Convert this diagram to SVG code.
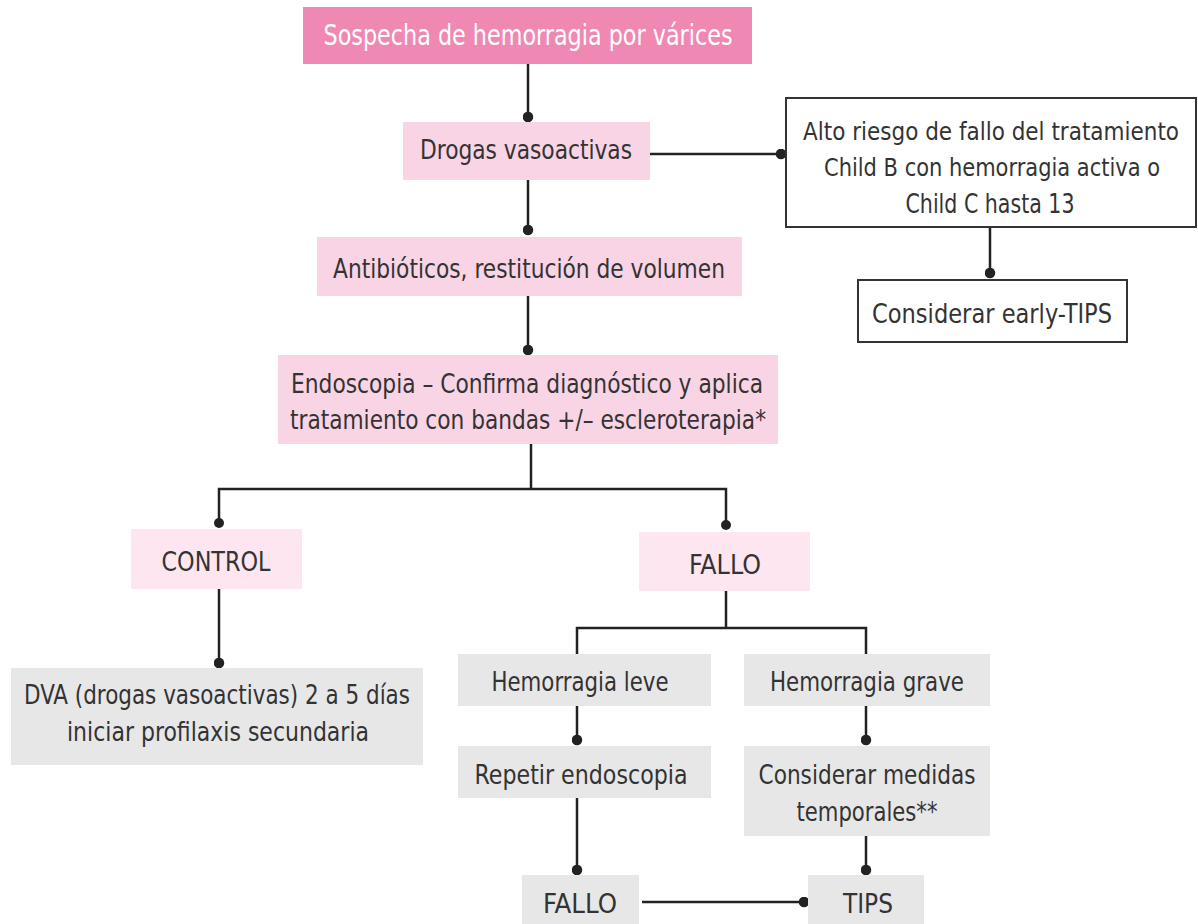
<svg xmlns="http://www.w3.org/2000/svg" width="1198" height="924" viewBox="0 0 1198 924">
<defs>
<style>
text{font-family:"DejaVu Sans Condensed","DejaVu Sans","Liberation Sans",sans-serif;font-size:27px;fill:#333;text-anchor:middle}
.w{fill:#fff;font-size:28px}
.sm{font-size:24px}
.top{fill:#f088b4}
.pk{fill:#f9d4e5}
.lp{fill:#fde6ef}
.gr{fill:#e7e7e7}
.wb{fill:#fff;stroke:#333;stroke-width:2}
.c{fill:none;stroke:#222;stroke-width:2.5}
</style>
<marker id="dot" viewBox="0 0 10 10" refX="5" refY="5" markerWidth="4.4" markerHeight="4.4" markerUnits="strokeWidth"><circle cx="5" cy="5" r="4.8" fill="#222"/></marker>
</defs>
<rect width="1198" height="924" fill="#fff"/>
<g id="connectors">
<path class="c" d="M528 64V117" marker-end="url(#dot)"/>
<path class="c" d="M650 154H781" marker-end="url(#dot)"/>
<path class="c" d="M990 227V273" marker-end="url(#dot)"/>
<path class="c" d="M528 180V230" marker-end="url(#dot)"/>
<path class="c" d="M528 296V350" marker-end="url(#dot)"/>
<path class="c" d="M531 444V489"/>
<path class="c" d="M219 523V489H726V525"/>
<circle cx="219" cy="523" r="5" fill="#222"/>
<circle cx="726" cy="525" r="5" fill="#222"/>
<path class="c" d="M219 589V663" marker-end="url(#dot)"/>
<path class="c" d="M726 591V628"/>
<path class="c" d="M577 662V628H866V662"/>
<circle cx="577" cy="662" r="5" fill="#222"/>
<circle cx="866" cy="662" r="5" fill="#222"/>
<path class="c" d="M577 706V740" marker-end="url(#dot)"/>
<path class="c" d="M866 706V740" marker-end="url(#dot)"/>
<path class="c" d="M577 798V870" marker-end="url(#dot)"/>
<path class="c" d="M866 836V870" marker-end="url(#dot)"/>
<path class="c" d="M642 902H804" marker-end="url(#dot)"/>
</g>
<g id="n-sospecha"><rect class="top" x="303" y="7" width="449" height="57"/><text class="w" x="528" y="45" textLength="409" lengthAdjust="spacingAndGlyphs">Sospecha de hemorragia por várices</text></g>
<g id="n-drogas"><rect class="pk" x="403" y="122" width="247" height="58"/><text x="526" y="159" textLength="212" lengthAdjust="spacingAndGlyphs">Drogas vasoactivas</text></g>
<g id="n-alto"><rect class="wb" x="786" y="98" width="410" height="129"/>
<text class="sm" x="991" y="140" textLength="376" lengthAdjust="spacingAndGlyphs">Alto riesgo de fallo del tratamiento</text>
<text class="sm" x="992" y="176" textLength="336" lengthAdjust="spacingAndGlyphs">Child B con hemorragia activa o</text>
<text x="990" y="213" textLength="169" lengthAdjust="spacingAndGlyphs">Child C hasta 13</text></g>
<g id="n-early"><rect class="wb" x="858" y="280" width="269" height="62"/><text x="992" y="323" textLength="240" lengthAdjust="spacingAndGlyphs">Considerar early-TIPS</text></g>
<g id="n-antibioticos"><rect class="pk" x="317" y="237" width="425" height="59"/><text x="529" y="278" textLength="392" lengthAdjust="spacingAndGlyphs">Antibióticos, restitución de volumen</text></g>
<g id="n-endoscopia"><rect class="pk" x="278" y="355" width="500" height="89"/>
<text x="527" y="393" textLength="472" lengthAdjust="spacingAndGlyphs">Endoscopia – Confirma diagnóstico y aplica</text>
<text x="528" y="429" textLength="476" lengthAdjust="spacingAndGlyphs">tratamiento con bandas +/– escleroterapia*</text></g>
<g id="n-control"><rect class="lp" x="131" y="529" width="171" height="60"/><text x="216" y="571" textLength="109" lengthAdjust="spacingAndGlyphs">CONTROL</text></g>
<g id="n-fallo1"><rect class="lp" x="639" y="532" width="171" height="59"/><text x="725" y="574" textLength="72" lengthAdjust="spacingAndGlyphs">FALLO</text></g>
<g id="n-dva"><rect class="gr" x="11" y="668" width="412" height="97"/>
<text x="217" y="704" textLength="386" lengthAdjust="spacingAndGlyphs">DVA (drogas vasoactivas) 2 a 5 días</text>
<text x="218" y="741" textLength="302" lengthAdjust="spacingAndGlyphs">iniciar profilaxis secundaria</text></g>
<g id="n-leve"><rect class="gr" x="458" y="654" width="253" height="52"/><text x="580" y="691" textLength="177" lengthAdjust="spacingAndGlyphs">Hemorragia leve</text></g>
<g id="n-grave"><rect class="gr" x="744" y="654" width="246" height="52"/><text x="867" y="691" textLength="194" lengthAdjust="spacingAndGlyphs">Hemorragia grave</text></g>
<g id="n-repetir"><rect class="gr" x="458" y="746" width="253" height="52"/><text x="581" y="784" textLength="213" lengthAdjust="spacingAndGlyphs">Repetir endoscopia</text></g>
<g id="n-medidas"><rect class="gr" x="744" y="746" width="246" height="90"/>
<text x="867" y="784" textLength="217" lengthAdjust="spacingAndGlyphs">Considerar medidas</text>
<text x="867" y="821" textLength="141" lengthAdjust="spacingAndGlyphs">temporales**</text></g>
<g id="n-fallo2"><rect class="gr" x="522" y="875" width="117" height="49"/><text x="580" y="913" textLength="74" lengthAdjust="spacingAndGlyphs">FALLO</text></g>
<g id="n-tips"><rect class="gr" x="808" y="875" width="116" height="49"/><text x="868" y="913" textLength="50" lengthAdjust="spacingAndGlyphs">TIPS</text></g>
</svg>
